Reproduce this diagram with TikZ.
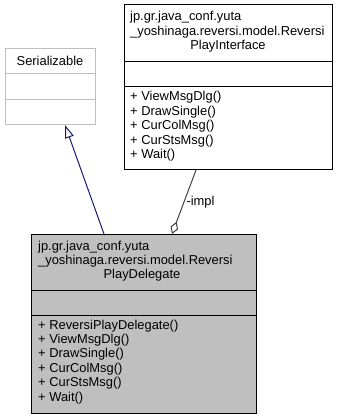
\documentclass[tikz,border=0pt]{standalone}
\usepackage{fontspec}
\setmainfont{Liberation Sans}
\usetikzlibrary{arrows.meta,calc}
\definecolor{edgegray}{HTML}{404040}
\definecolor{inhblue}{HTML}{191970}
\definecolor{fillgray}{HTML}{BFBFBF}
\definecolor{extgray}{HTML}{BFBFBF}
\begin{document}
\begin{tikzpicture}[x=1pt,y=-1pt,
  txt/.style={inner sep=0pt, font=\fontsize{12.9}{14.4}\selectfont},
  classbox/.style={draw=black, line width=1pt, anchor=north west, inner sep=0pt, outer sep=0pt},
  extbox/.style={draw=extgray, fill=white, line width=1pt, anchor=north west, inner sep=0pt, outer sep=0pt},
  divider/.style={line width=1pt},
  inherit/.style={draw=inhblue, line width=1pt, -{Triangle[open, length=13pt, width=9pt]}},
  aggreg/.style={draw=edgegray, line width=1pt, -{Diamond[open, length=13pt, width=8pt]}},
]
\useasboundingbox (0,0) rectangle (339,419);

% external class: Serializable
\node[extbox, minimum width=90pt, minimum height=76pt] (ser) at (5,49) {};
\draw[divider, extgray] (ser.west |- 0,74) -- (ser.east |- 0,74);
\draw[divider, extgray] (ser.west |- 0,100) -- (ser.east |- 0,100);
\node[txt, anchor=base] (sername) at (50,66) {Serializable};

% interface class
\node[classbox, fill=white, minimum width=208pt, minimum height=165pt] (iface) at (124,5) {};
\draw[divider] (iface.west |- 0,62) -- (iface.east |- 0,62);
\draw[divider] (iface.west |- 0,87) -- (iface.east |- 0,87);
\node[txt, anchor=base west] (it1) at (130,21) {jp.gr.java\_conf.yuta};
\node[txt, anchor=base west] (it2) at (130,35.4) {\_yoshinaga.reversi.model.Reversi};
\node[txt, anchor=base] (it3) at (228,49.8) {PlayInterface};
\node[txt, anchor=base west] (im1) at (130,101) {+ ViewMsgDlg()};
\node[txt, anchor=base west] (im2) at (130,115.4) {+ DrawSingle()};
\node[txt, anchor=base west] (im3) at (130,129.8) {+ CurColMsg()};
\node[txt, anchor=base west] (im4) at (130,144.2) {+ CurStsMsg()};
\node[txt, anchor=base west] (im5) at (130,158.6) {+ Wait()};

% delegate class
\node[classbox, fill=fillgray, minimum width=225pt, minimum height=179pt] (deleg) at (31,234) {};
\draw[divider] (deleg.west |- 0,290) -- (deleg.east |- 0,290);
\draw[divider] (deleg.west |- 0,315) -- (deleg.east |- 0,315);
\node[txt, anchor=base west] (dt1) at (38,250) {jp.gr.java\_conf.yuta};
\node[txt, anchor=base west] (dt2) at (38,264.4) {\_yoshinaga.reversi.model.Reversi};
\node[txt, anchor=base] (dt3) at (142,278.8) {PlayDelegate};
\node[txt, anchor=base west] (dm1) at (38,329) {+ ReversiPlayDelegate()};
\node[txt, anchor=base west] (dm2) at (38,343.4) {+ ViewMsgDlg()};
\node[txt, anchor=base west] (dm3) at (38,357.8) {+ DrawSingle()};
\node[txt, anchor=base west] (dm4) at (38,372.2) {+ CurColMsg()};
\node[txt, anchor=base west] (dm5) at (38,386.6) {+ CurStsMsg()};
\node[txt, anchor=base west] (dm6) at (38,401) {+ Wait()};

% relations
\draw[inherit] ($(deleg.north west)+(73,0)$) -- ($(ser.south west)+(60,0)$);
\draw[aggreg] ($(iface.south west)+(72,0)$) -- node[txt, right=2pt, pos=0.5] (impl) {-impl} ($(deleg.north west)+(141,0)$);
\end{tikzpicture}
\end{document}
